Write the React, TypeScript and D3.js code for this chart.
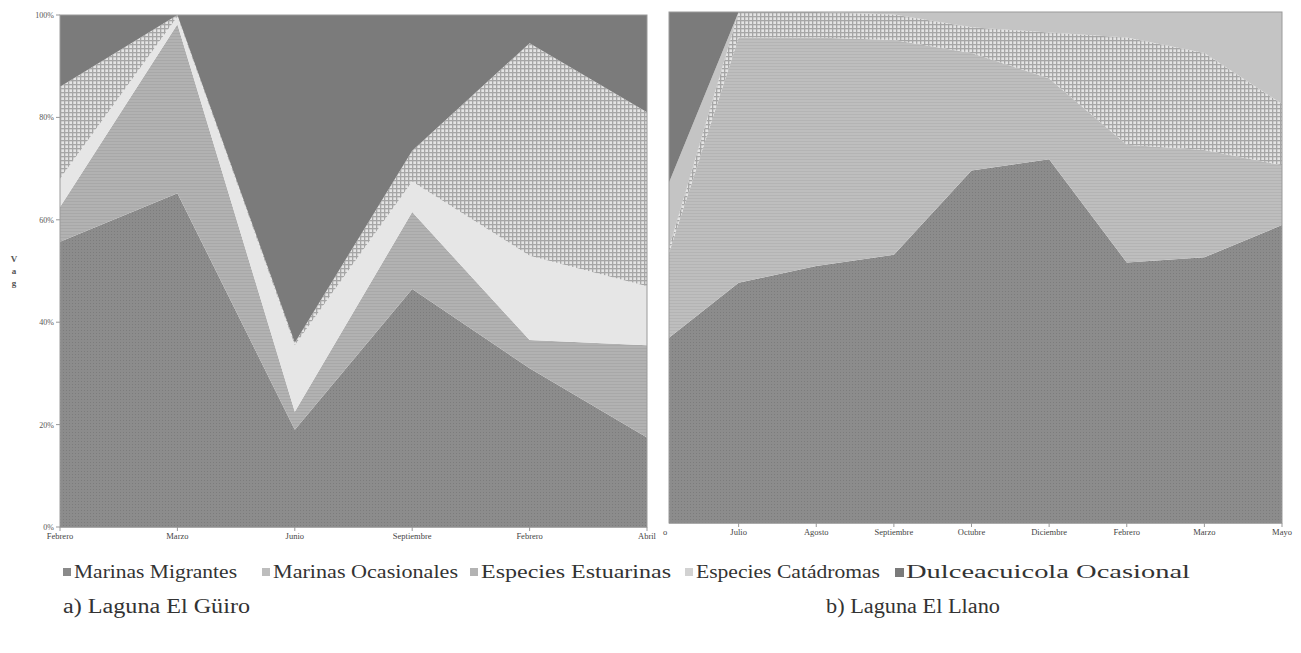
import React from "react";
import * as d3 from "d3";

const seriesNames = ["Marinas Migrantes", "Marinas Ocasionales", "Especies Estuarinas", "Especies Catádromas", "Dulceacuicola Ocasional"];
const keys = ["mig", "oca", "est", "cat", "dul"];

// a) Laguna El Güiro
const leftMonths = ["Febrero", "Marzo", "Junio", "Septiembre", "Febrero", "Abril"];
const leftMigrantes = [55.7, 65.2, 19, 46.5, 31, 17.5];
const leftOcasionales = [6.8, 33, 3.5, 15, 5.5, 18];
const leftEstuarinas = [5.5, 1.5, 13, 6, 16.5, 11.5];
const leftCatadromas = [18, 0.3, 0.5, 6, 41.5, 34];
const leftDulce = [14, 0, 64, 26.5, 5.5, 19];

// b) Laguna El Llano
const rightMonths = ["o", "Julio", "Agosto", "Septiembre", "Octubre", "Diciembre", "Febrero", "Marzo", "Mayo"];
const rightMigrantes = [35, 47, 50.3, 52.5, 69, 71.2, 51, 52, 58.3];
const rightOcasionales = [13, 48, 44.7, 42, 23, 15.8, 23, 21, 11.7];
const rightEstuarinas = [0.5, 5, 5, 5, 5, 9, 21, 19, 12];
const rightCatadromas = [14.3, 0, 0, 0.5, 3, 4, 5, 8, 18];
const rightDulce = [37.2, 0, 0, 0, 0, 0, 0, 0, 0];

const yTicks = [0, 20, 40, 60, 80, 100];

const legendX = [63, 262, 470, 685, 895];
const legendW = [174, 196, 201, 195, 295];
const legendColors = ["#8a8a8a", "#bdbdbd", "#b3b3b3", "#d2d2d2", "#7a7a7a"];

const SERIF = "'Liberation Serif', 'Times New Roman', Times, serif";

function build(months: string[], cols: number[][]) {
  return months.map((m, i) => {
    const o: any = { month: m, i };
    keys.forEach((k, j) => (o[k] = cols[j][i]));
    return o;
  });
}

const leftData = build(leftMonths, [leftMigrantes, leftOcasionales, leftEstuarinas, leftCatadromas, leftDulce]);
const rightData = build(rightMonths, [rightMigrantes, rightOcasionales, rightEstuarinas, rightCatadromas, rightDulce]);

const leftFills = ["url(#dots)", "url(#hlinesMed)", "#e6e6e6", "url(#cross)", "#7b7b7b"];
const rightFills = ["url(#dots)", "url(#hlinesLight)", "url(#cross)", "#c4c4c4", "#7b7b7b"];

function Panel({ data, fills, x0, x1, y0, y1, firstX, clipId, showY, firstLabelShift }: any) {
  const stack = d3.stack().keys(keys);
  const series = stack(data);
  const x = d3.scaleLinear().domain([0, data.length - 1]).range([firstX, x1]);
  const y = d3.scaleLinear().domain([0, 100]).range([y1, y0]);
  const area = d3
    .area<any>()
    .x((d: any) => x(d.data.i))
    .y0((d: any) => y(d[0]))
    .y1((d: any) => y(d[1]));
  return (
    <g>
      <clipPath id={clipId}>
        <rect x={x0} y={y0} width={x1 - x0} height={y1 - y0} />
      </clipPath>
      <g clipPath={`url(#${clipId})`}>
        {series.map((s: any, i: number) => (
          <path key={i} d={area(s) as string} fill={fills[i]} />
        ))}
      </g>
      <rect x={x0} y={y0} width={x1 - x0} height={y1 - y0} fill="none" stroke="#9a9a9a" strokeWidth={1} />
      <line x1={x0} x2={x1} y1={y1} y2={y1} stroke="#8a8a8a" strokeWidth={1.2} />
      {data.map((d: any, i: number) => (
        <g key={i}>
          {x(i) >= x0 - 0.5 && <line x1={x(i)} x2={x(i)} y1={y1} y2={y1 + 4} stroke="#999" />}
          <text
            x={i === 0 ? x(i) + firstLabelShift : x(i)}
            y={y1 + 12}
            fontSize={8.5}
            fontFamily={SERIF}
            textAnchor="middle"
            fill="#444"
          >
            {d.month}
          </text>
        </g>
      ))}
      {showY &&
        yTicks.map((t) => (
          <g key={t}>
            <line x1={x0 - 4} x2={x0} y1={y(t)} y2={y(t)} stroke="#999" />
            <text x={x0 - 6} y={y(t) + 3} fontSize={8} fontFamily={SERIF} textAnchor="end" fill="#555">
              {t}%
            </text>
          </g>
        ))}
    </g>
  );
}

export default function App() {
  return (
    <svg width={1301} height={653} style={{ position: "absolute", left: 0, top: 0, background: "#fff" }}>
      <defs>
        <pattern id="dots" width={3} height={3} patternUnits="userSpaceOnUse">
          <rect width={3} height={3} fill="#8c8c8c" />
          <rect width={1} height={1} fill="#7c7c7c" />
        </pattern>
        <pattern id="hlinesMed" width={3} height={3} patternUnits="userSpaceOnUse">
          <rect width={3} height={3} fill="#b2b2b2" />
          <rect width={3} height={1} fill="#a8a8a8" />
        </pattern>
        <pattern id="hlinesLight" width={3} height={3} patternUnits="userSpaceOnUse">
          <rect width={3} height={3} fill="#bebebe" />
          <rect width={3} height={1} fill="#b4b4b4" />
        </pattern>
        <pattern id="cross" width={4} height={4} patternUnits="userSpaceOnUse">
          <rect width={4} height={4} fill="#e4e4e4" />
          <rect width={4} height={1.3} fill="#a6a6a6" />
          <rect width={1.3} height={4} fill="#a6a6a6" />
        </pattern>
      </defs>

      <Panel data={leftData} fills={leftFills} x0={60} x1={647} y0={15} y1={527} firstX={60} clipId="clipL" showY={true} firstLabelShift={0} />
      <Panel data={rightData} fills={rightFills} x0={669} x1={1282} y0={12} y1={523} firstX={661} clipId="clipR" showY={false} firstLabelShift={4} />

      {["V", "a", "g"].map((c, i) => (
        <text key={i} x={14} y={262 + i * 12} fontSize={9} fontWeight="bold" fontFamily={SERIF} textAnchor="middle" fill="#555">
          {c}
        </text>
      ))}

      {seriesNames.map((n, i) => (
        <g key={n}>
          <rect x={legendX[i]} y={568} width={i === 4 ? 9 : 8} height={i === 4 ? 9 : 8} fill={legendColors[i]} />
          <text
            x={legendX[i] + 11}
            y={578}
            fontSize={18}
            fontFamily={SERIF}
            fill="#333"
            textLength={legendW[i] - 11}
            lengthAdjust="spacingAndGlyphs"
          >
            {n}
          </text>
        </g>
      ))}

      <text x={63} y={613} fontSize={20} fontFamily={SERIF} fill="#333" textLength={187} lengthAdjust="spacingAndGlyphs">
        a) Laguna El Güiro
      </text>
      <text x={826} y={613} fontSize={20} fontFamily={SERIF} fill="#333" textLength={174} lengthAdjust="spacingAndGlyphs">
        b) Laguna El Llano
      </text>
    </svg>
  );
}
